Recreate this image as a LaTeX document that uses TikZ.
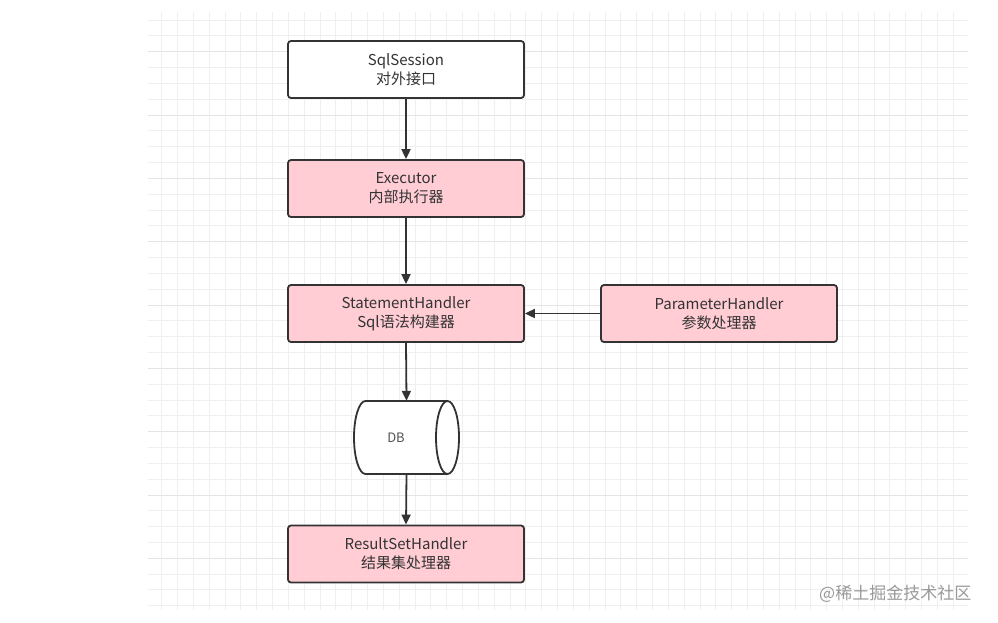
\documentclass[tikz,border=0pt]{standalone}
\usepackage{fontspec}
\setmainfont{Noto Sans CJK SC}
\usetikzlibrary{arrows.meta}
\definecolor{pinkfill}{HTML}{FFCDD3}
\definecolor{edgecol}{HTML}{333333}
\definecolor{gridminor}{HTML}{EFEFEF}
\definecolor{gridmajor}{HTML}{E4E4E4}
\definecolor{txtcol}{HTML}{333333}
\definecolor{wmcol}{HTML}{9A9A9A}
\begin{document}
\begin{tikzpicture}[x=1pt,y=-1pt,
  box/.style={draw=edgecol, line width=1.8pt, rounded corners=3pt, minimum width=236pt, minimum height=57pt, inner sep=0pt, align=center, font=\fontsize{15}{19}\selectfont, text=txtcol},
  pinkbox/.style={box, fill=pinkfill},
  whitebox/.style={box, fill=white},
  conn/.style={draw=edgecol, line width=1.8pt, -{Triangle[length=10pt,width=9pt]}}
]
\useasboundingbox (0,0) rectangle (998,622);
\fill[white] (0,0) rectangle (998,622);
% grid
\foreach \i in {0,...,51} {
  \pgfmathsetmacro{\xx}{161.7+\i*15.83}
  \ifdim\xx pt<968pt
    \draw[gridminor, line width=0.8pt] (\xx,12) -- (\xx,610);
  \fi
}
\foreach \j in {0,...,37} {
  \pgfmathsetmacro{\yy}{20+\j*15.83}
  \ifdim\yy pt<610pt
    \draw[gridminor, line width=0.8pt] (148,\yy) -- (968,\yy);
  \fi
}
\foreach \j in {0,...,9} {
  \pgfmathsetmacro{\yy}{51.7+\j*63.32}
  \ifdim\yy pt<610pt
    \draw[gridmajor, line width=0.9pt] (148,\yy) -- (968,\yy);
  \fi
}
% nodes
\node[whitebox] (sess) at (406,69.5) {SqlSession\\对外接口};
\node[pinkbox] (exec) at (406,188.5) {Executor\\内部执行器};
\node[pinkbox] (stmt) at (406,313.5) {StatementHandler\\Sql语法构建器};
\node[pinkbox] (param) at (719,313.5) {ParameterHandler\\参数处理器};
\node[pinkbox] (rs) at (406,554) {ResultSetHandler\\结果集处理器};
% DB cylinder
\node[minimum width=105pt, minimum height=73pt, inner sep=0pt] (db) at (406.5,437.5) {};
\draw[edgecol, line width=1.8pt, fill=white]
  (447.5,401) -- (365.5,401) arc[start angle=-90, end angle=-270, x radius=11.5, y radius=36.5]
  -- (447.5,474) arc[start angle=90, end angle=-90, x radius=11.5, y radius=36.5] -- cycle;
\draw[edgecol, line width=1.8pt]
  (447.5,401) arc[start angle=-90, end angle=-270, x radius=11.5, y radius=36.5];
\node[font=\fontsize{13}{15}\selectfont, text=txtcol!85] (dbt) at (396,438) {DB};
% connectors
\draw[conn] (sess.south) -- (exec.north);
\draw[conn] (exec.south) -- (stmt.north);
\draw[conn] (param.west) -- (stmt.east);
\draw[conn] (stmt.south) -- (db.north);
\draw[conn] (db.south) -- (rs.north);
% watermark
\node[font=\fontsize{17}{20}\selectfont, text=wmcol, anchor=west, inner sep=0pt] (wm) at (819,594) {@稀土掘金技术社区};
\end{tikzpicture}
\end{document}
